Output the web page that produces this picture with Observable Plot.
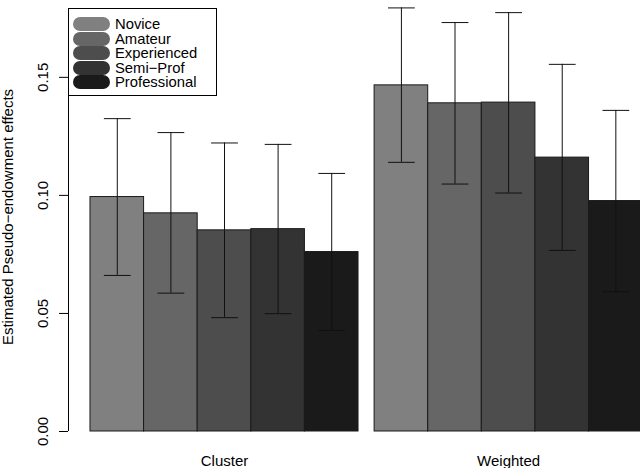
<!DOCTYPE html>
<html>
<head>
<meta charset="utf-8">
<script src="https://cdn.jsdelivr.net/npm/d3@7"></script>
<script src="https://cdn.jsdelivr.net/npm/@observablehq/plot@0.6"></script>
<style>
  html, body { margin: 0; padding: 0; background: #fff; }
  #wrap { position: relative; width: 640px; height: 468px; overflow: hidden; font-family: "Liberation Sans", Arial, sans-serif; }
  #legend { position: absolute; left: 68px; top: 8px; width: 149px; height: 88px; border: 1px solid #000; background: #fff; box-sizing: border-box; }
  .pill { position: absolute; left: 4px; width: 37px; height: 14px; border-radius: 7px; }
  .lab { position: absolute; left: 46px; font-size: 14.8px; line-height: 14px; height: 14px; white-space: nowrap; color: #000; }
</style>
</head>
<body>
<div id="wrap"></div>
<script>
const groups = ["Cluster", "Weighted"];
const levels = ["Novice", "Amateur", "Experienced", "Semi\u2212Prof", "Professional"];
const colors = ["#808080", "#666666", "#4d4d4d", "#333333", "#1a1a1a"];
const clusterEst = [0.0993, 0.0924, 0.0852, 0.0857, 0.0760];
const clusterLo  = [0.0661, 0.0586, 0.0482, 0.0499, 0.0428];
const clusterHi  = [0.1325, 0.1266, 0.1222, 0.1216, 0.1093];
const weightedEst = [0.1466, 0.1390, 0.1393, 0.1160, 0.0976];
const weightedLo  = [0.1140, 0.1048, 0.1010, 0.0767, 0.0592];
const weightedHi  = [0.1794, 0.1732, 0.1774, 0.1555, 0.1360];
const yTicks = [0, 0.05, 0.10, 0.15];
const yTitle = "Estimated Pseudo\u2212endowment effects";

const groupSpace = 0.3;
const est = [clusterEst, weightedEst], lo = [clusterLo, weightedLo], hi = [clusterHi, weightedHi];
const rows = [];
groups.forEach((g, gi) => levels.forEach((l, li) => {
  const x1 = gi * (levels.length + groupSpace) + li;
  rows.push({group: g, level: l, x1, x2: x1 + 1, xc: x1 + 0.5, est: est[gi][li], lo: lo[gi][li], hi: hi[gi][li]});
}));
const xDomain = [-0.41, 10.26];

const chart = Plot.plot({
  width: 640, height: 468,
  marginLeft: 68, marginRight: 0, marginTop: 6, marginBottom: 37,
  style: {fontFamily: "Liberation Sans, Arial, sans-serif", fontSize: "15px", background: "white", color: "black"},
  x: {domain: xDomain, axis: null},
  y: {domain: [0, 0.18], axis: null},
  color: {domain: levels, range: colors},
  marks: [
    Plot.rect(rows, {x1: "x1", x2: "x2", y1: 0, y2: "est", fill: "level", stroke: "#1a1a1a", strokeWidth: 1}),
    Plot.ruleX(rows, {x: "xc", y1: "lo", y2: "hi", stroke: "#111", strokeWidth: 1}),
    Plot.link(rows, {x1: d => d.xc - 0.25, x2: d => d.xc + 0.25, y1: "hi", y2: "hi", stroke: "#111", strokeWidth: 1}),
    Plot.link(rows, {x1: d => d.xc - 0.25, x2: d => d.xc + 0.25, y1: "lo", y2: "lo", stroke: "#111", strokeWidth: 1}),
    Plot.ruleX([xDomain[0]], {y1: d3.min(yTicks), y2: d3.max(yTicks), stroke: "#000", strokeWidth: 1}),
    Plot.axisY({ticks: yTicks, tickFormat: d3.format(".2f"), tickSize: 9, tickRotate: -90, tickPadding: 12, fontSize: 15, stroke: "#000"}),
    Plot.text([yTitle], {frameAnchor: "left", rotate: -90, dx: -60, dy: -2, text: d => d, fontSize: 15, textAnchor: "middle", lineAnchor: "middle"}),
    Plot.text(groups, {x: (d, i) => i * (levels.length + groupSpace) + levels.length / 2, y: 0, dy: 24, text: d => d, fontSize: 15, lineAnchor: "top"})
  ]
});
const wrap = document.getElementById("wrap");
wrap.appendChild(chart);

const legend = document.createElement("div");
legend.id = "legend";
levels.forEach((l, i) => {
  const top = 8 + i * 14.6;
  const pill = document.createElement("div");
  pill.className = "pill";
  pill.style.top = top + "px";
  pill.style.background = colors[i];
  const lab = document.createElement("div");
  lab.className = "lab";
  lab.style.top = top + "px";
  lab.textContent = l;
  legend.appendChild(pill);
  legend.appendChild(lab);
});
wrap.appendChild(legend);
</script>
</body>
</html>
